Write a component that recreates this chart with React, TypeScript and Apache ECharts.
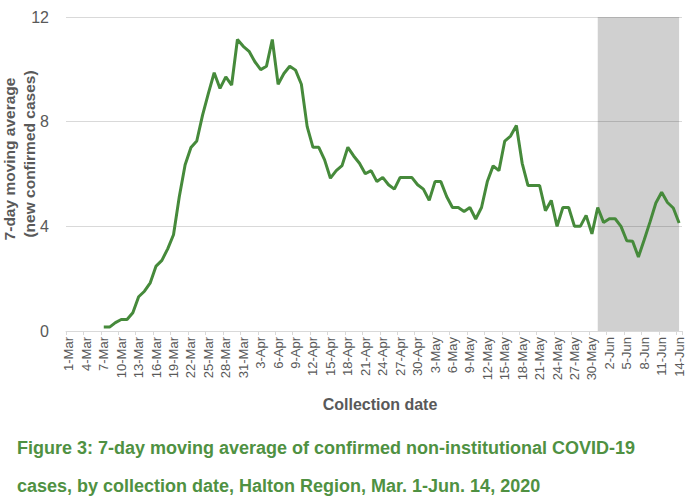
import React, { useEffect, useRef } from "react";
import * as echarts from "echarts";

const dates: string[] = [
  "1-Mar","2-Mar","3-Mar","4-Mar","5-Mar","6-Mar","7-Mar","8-Mar","9-Mar","10-Mar",
  "11-Mar","12-Mar","13-Mar","14-Mar","15-Mar","16-Mar","17-Mar","18-Mar","19-Mar","20-Mar",
  "21-Mar","22-Mar","23-Mar","24-Mar","25-Mar","26-Mar","27-Mar","28-Mar","29-Mar","30-Mar",
  "31-Mar","1-Apr","2-Apr","3-Apr","4-Apr","5-Apr","6-Apr","7-Apr","8-Apr","9-Apr",
  "10-Apr","11-Apr","12-Apr","13-Apr","14-Apr","15-Apr","16-Apr","17-Apr","18-Apr","19-Apr",
  "20-Apr","21-Apr","22-Apr","23-Apr","24-Apr","25-Apr","26-Apr","27-Apr","28-Apr","29-Apr",
  "30-Apr","1-May","2-May","3-May","4-May","5-May","6-May","7-May","8-May","9-May",
  "10-May","11-May","12-May","13-May","14-May","15-May","16-May","17-May","18-May","19-May",
  "20-May","21-May","22-May","23-May","24-May","25-May","26-May","27-May","28-May","29-May",
  "30-May","31-May","1-Jun","2-Jun","3-Jun","4-Jun","5-Jun","6-Jun","7-Jun","8-Jun",
  "9-Jun","10-Jun","11-Jun","12-Jun","13-Jun","14-Jun",
];

// 7-day moving average of new confirmed cases (null before 7-Mar)
const movingAverage: (number | null)[] = [
  null, null, null, null, null, null,
  0.15, 0.15, 0.32, 0.44, 0.44, 0.70, 1.31, 1.52, 1.84, 2.48, 2.70, 3.14, 3.68, 5.14,
  6.35, 7.01, 7.26, 8.25, 9.08, 9.87, 9.27, 9.71, 9.40, 11.14, 10.88, 10.69, 10.29, 9.99,
  10.12, 11.14, 9.43, 9.84, 10.12, 9.97, 9.43, 7.81, 7.02, 7.02, 6.54, 5.84, 6.13, 6.32,
  7.02, 6.69, 6.41, 6.01, 6.13, 5.71, 5.87, 5.59, 5.42, 5.87, 5.87, 5.87, 5.59, 5.42,
  4.99, 5.71, 5.71, 5.14, 4.72, 4.72, 4.57, 4.72, 4.28, 4.72, 5.71, 6.31, 6.13, 7.26,
  7.45, 7.85, 6.41, 5.56, 5.56, 5.56, 4.60, 4.99, 4.00, 4.72, 4.72, 4.00, 4.00, 4.42,
  3.71, 4.72, 4.15, 4.29, 4.29, 4.00, 3.45, 3.43, 2.83, 3.49, 4.17, 4.89, 5.30, 4.91,
  4.70, 4.13,
];

const shadedRange: [string, string] = ["31-May", "14-Jun"];
const yTicks = { min: 0, max: 12, interval: 4 };

const yTitleLines = ["7-day moving average", "(new confirmed cases)"];
const xTitle = "Collection date";
const captionLines = [
  "Figure 3: 7-day moving average of confirmed non-institutional COVID-19",
  "cases, by collection date, Halton Region, Mar. 1-Jun. 14, 2020",
];

export default function App() {
  const ref = useRef<HTMLDivElement>(null);

  useEffect(() => {
    document.body.style.margin = "0";
    if (!ref.current) return;
    const chart = echarts.init(ref.current, undefined, { renderer: "svg" });
    const axisGrey = "#595959";
    const font = "'Liberation Sans', Arial, sans-serif";
    chart.setOption({
      animation: false,
      backgroundColor: "#ffffff",
      textStyle: { fontFamily: font },
      grid: { left: 66, right: 5, top: 17, bottom: 171, containLabel: false },
      xAxis: {
        type: "category",
        data: dates,
        boundaryGap: true,
        axisLine: { lineStyle: { color: "#d9d9d9", width: 1 } },
        axisTick: { show: true, interval: 2, length: 4, lineStyle: { color: "#d9d9d9" } },
        axisLabel: {
          interval: 2,
          rotate: 90,
          margin: 6,
          color: axisGrey,
          fontSize: 13,
          fontFamily: font,
        },
        name: xTitle,
        nameLocation: "middle",
        nameGap: 65,
        nameTextStyle: {
          color: axisGrey,
          fontSize: 16,
          fontWeight: "bold",
          fontFamily: font,
          padding: [0, 0, 0, 12],
        },
      },
      yAxis: {
        type: "value",
        min: yTicks.min,
        max: yTicks.max,
        interval: yTicks.interval,
        axisLine: { show: false },
        axisTick: { show: false },
        axisLabel: { color: axisGrey, fontSize: 16, margin: 17, fontFamily: font },
        splitLine: { lineStyle: { color: "#d9d9d9", width: 1 } },
      },
      series: [
        {
          type: "line",
          data: movingAverage,
          showSymbol: false,
          symbol: "none",
          connectNulls: false,
          lineStyle: { color: "#468a3b", width: 3 },
          itemStyle: { color: "#468a3b" },
          markArea: {
            silent: true,
            itemStyle: { color: "rgba(0,0,0,0.185)" },
            data: [[{ xAxis: shadedRange[0] }, { xAxis: shadedRange[1] }]],
          },
          z: 3,
        },
      ],
      graphic: [
        {
          type: "text",
          x: 9,
          y: 159,
          rotation: Math.PI / 2,
          style: {
            text: yTitleLines[0],
            fill: axisGrey,
            font: `bold 15.5px ${font}`,
            textAlign: "center",
            textVerticalAlign: "middle",
          },
        },
        {
          type: "text",
          x: 29,
          y: 154,
          rotation: Math.PI / 2,
          style: {
            text: yTitleLines[1],
            fill: axisGrey,
            font: `bold 15.5px ${font}`,
            textAlign: "center",
            textVerticalAlign: "middle",
          },
        },
        {
          type: "text",
          left: 17,
          top: 439,
          style: {
            text: captionLines[0],
            fill: "#4f9142",
            font: `bold 18px ${font}`,
          },
        },
        {
          type: "text",
          left: 17,
          top: 477,
          style: {
            text: captionLines[1],
            fill: "#4f9142",
            font: `bold 18px ${font}`,
          },
        },
      ],
    });
    return () => chart.dispose();
  }, []);

  return <div ref={ref} style={{ width: 687, height: 502 }} />;
}
